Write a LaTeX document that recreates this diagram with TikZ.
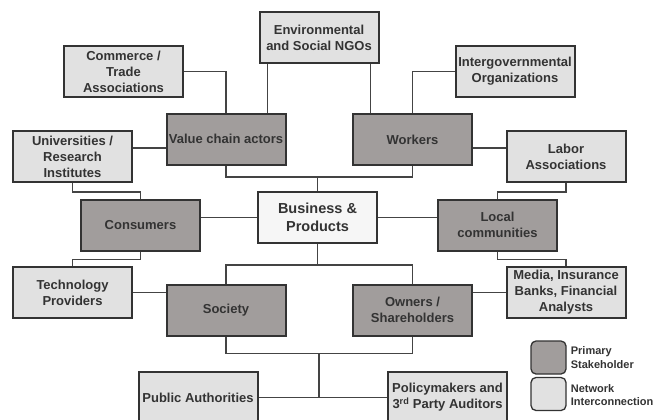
\documentclass[tikz,border=0pt]{standalone}
\usepackage{fontspec}
\setmainfont{Liberation Sans}
\usetikzlibrary{calc}
\definecolor{primfill}{HTML}{A19D9C}
\definecolor{netfill}{HTML}{E1E1E1}
\definecolor{corefill}{HTML}{F6F6F6}
\definecolor{edgecol}{HTML}{333333}
\definecolor{linkcol}{HTML}{444444}
\definecolor{txtcol}{HTML}{333333}
\begin{document}
\begin{tikzpicture}[x=1bp,y=-1bp,
  box/.style={draw=edgecol,line width=2bp,minimum width=119bp,minimum height=51bp,
    inner sep=0pt,align=center,text=txtcol,
    font=\bfseries\fontsize{13bp}{16bp}\selectfont},
  primary/.style={box,fill=primfill},
  network/.style={box,fill=netfill},
  core/.style={box,fill=corefill,font=\bfseries\fontsize{14.5bp}{18bp}\selectfont},
  link/.style={draw=linkcol,line width=1.6bp},
  keybox/.style={draw=edgecol,line width=1.3bp,rounded corners=5bp,minimum width=35bp,minimum height=33bp,inner sep=0pt},
  keytext/.style={anchor=west,align=left,inner sep=0pt,text=txtcol,font=\bfseries\fontsize{11bp}{13.5bp}\selectfont}]
\useasboundingbox (0,0) rectangle (654,419);
\clip (0,0) rectangle (654,419);

% stakeholder boxes
\node[network] (env)      at (319,37.5)   {Environmental\\and Social NGOs};
\node[network] (commerce) at (123.5,71.5) {Commerce /\\Trade\\Associations};
\node[network] (intergov) at (515,71.5)   {Intergovernmental\\Organizations};
\node[primary] (vca)      at (226,139)    {Value chain actors};
\node[primary] (workers)  at (412.5,139.5){Workers};
\node[network] (univ)     at (72.5,156.5) {Universities /\\Research\\Institutes};
\node[network] (labor)    at (566,156.5)  {Labor\\Associations};
\node[primary] (consumers)at (140.5,225)  {Consumers};
\node[core]    (business) at (317.5,217.5){Business \&\\Products};
\node[primary] (local)    at (497.5,225)  {Local\\communities};
\node[network] (tech)     at (72.5,292.5) {Technology\\Providers};
\node[network] (media)    at (566,292.5)  {Media, Insurance\\Banks, Financial\\Analysts};
\node[primary] (society)  at (226,310)    {Society};
\node[primary] (owners)   at (412.5,310)  {Owners /\\Shareholders};
\node[network] (public)   at (198,397.5)  {Public Authorities};
\node[network] (policy)   at (447.5,397.5){Policymakers and\\3\textsuperscript{rd} Party Auditors};

% upper connectors
\draw[link] (commerce.east) -| (vca.north);
\draw[link] (intergov.west) -| (workers.north);
\draw[link] ($(env.south west)+(9,0)$) coordinate (e1) -- (e1 |- vca.north);
\draw[link] ($(env.south east)+(-9,0)$) coordinate (e2) -- (e2 |- workers.north);
\draw[link] ($(vca.west)+(0,9)$) coordinate (u1) -- (u1 -| univ.east);
\draw[link] ($(workers.east)+(0,8.5)$) coordinate (l1) -- (l1 -| labor.west);
\coordinate (hubtop) at ($(business.north)+(0,-14)$);
\draw[link] (vca.south) |- (hubtop) -| (workers.south);
\draw[link] (business.north) -- (hubtop);

% side chains
\draw[link] (univ.south) -- ++(0,9) -| (consumers.north);
\draw[link] (labor.south) -- ++(0,9) -| (local.north);
\draw[link] (consumers.south) -- ++(0,8) -| (tech.north);
\draw[link] (local.south) -- ++(0,8) -| (media.north);
\draw[link] (business.west) -- (business.west -| consumers.east);
\draw[link] (business.east) -- (business.east -| local.west);
\draw[link] (tech.east) -- (tech.east -| society.west);
\draw[link] (media.west) -- (media.west -| owners.east);

% lower connectors
\coordinate (hubmid) at ($(business.south)+(0,21)$);
\draw[link] (business.south) -- (hubmid);
\draw[link] (society.north) |- (hubmid) -| (owners.north);
\coordinate (hublow) at ($(society.south)!0.5!(owners.south)+(0,17)$);
\draw[link] (society.south) |- (hublow) -| (owners.south);
\draw[link] (public.east) -- (policy.west);
\draw[link] (hublow) -- (hublow |- public.east);

% key
\node[keybox,fill=primfill] (kprim) at (548.5,357.5) {};
\node[keybox,fill=netfill]  (knet)  at (548.5,394)   {};
\node[keytext] (kprimt) at ($(kprim.east)+(4,0)$) {Primary\\Stakeholder};
\node[keytext] (knett)  at ($(knet.east)+(4,1)$)  {Network\\Interconnection};
\end{tikzpicture}
\end{document}
